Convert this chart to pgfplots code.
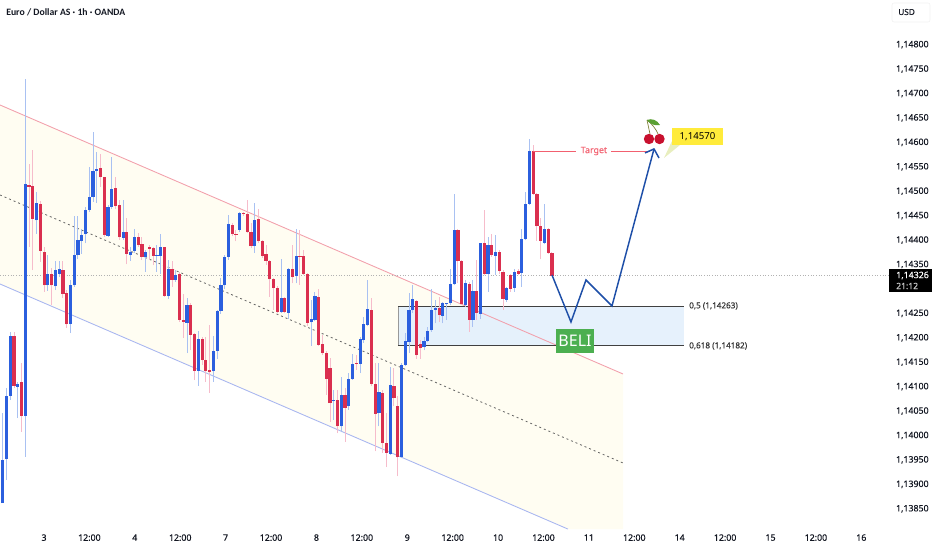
\documentclass[border=0pt]{standalone}
\usepackage{pgfplots}
\usepackage{pgfplotstable}
\usepackage{fontspec}
\setmainfont{Noto Sans}
\newfontfamily\titlefont{Carlito}
\newfontfamily\lblfont[FakeBold=0.3]{Noto Sans}
\pgfplotsset{compat=1.18}
\definecolor{upc}{HTML}{2B5FDE}
\definecolor{dnc}{HTML}{DA2F4F}
\definecolor{upw}{HTML}{A9C1F2}
\definecolor{dnw}{HTML}{F6BCCB}
\definecolor{chfill}{HTML}{FFFDF2}
\definecolor{boxfill}{HTML}{E3F0FC}
\definecolor{chred}{HTML}{F2A0AC}
\definecolor{chblue}{HTML}{A8B6F0}
\definecolor{pathc}{HTML}{1E4FA8}
\definecolor{tgt}{HTML}{F2606F}
\definecolor{txt}{HTML}{131722}
\definecolor{stemc}{HTML}{7A7A30}
\definecolor{leafc}{HTML}{5AA032}
\definecolor{cherryc}{HTML}{C8102E}
\definecolor{belic}{HTML}{4CAF50}
\definecolor{yellowc}{HTML}{FFEB3B}
\definecolor{tailc}{HTML}{E8EEBE}
\pgfplotstableread{
x o c h l
0 1.13860 1.13948 1.14045 1.13860
1 1.13950 1.14079 1.14095 1.13907
2 1.14080 1.14202 1.14211 1.14071
4 1.14098 1.14105 1.14109 1.14034
6 1.14038 1.14513 1.14728 1.13955
9 1.14439 1.14474 1.14497 1.14412
12 1.14306 1.14330 1.14368 1.14295
14 1.14304 1.14337 1.14356 1.14296
15 1.14330 1.14340 1.14356 1.14324
18 1.14226 1.14306 1.14317 1.14208
19 1.14306 1.14369 1.14448 1.14303
20 1.14368 1.14399 1.14448 1.14360
21 1.14397 1.14409 1.14421 1.14371
22 1.14412 1.14461 1.14467 1.14392
23 1.14460 1.14487 1.14549 1.14457
24 1.14487 1.14540 1.14620 1.14477
25 1.14540 1.14545 1.14579 1.14475
28 1.14407 1.14467 1.14470 1.14405
29 1.14467 1.14504 1.14569 1.14463
32 1.14403 1.14416 1.14480 1.14399
34 1.14368 1.14375 1.14385 1.14356
35 1.14377 1.14404 1.14422 1.14373
38 1.14363 1.14375 1.14378 1.14334
41 1.14366 1.14368 1.14388 1.14334
42 1.14366 1.14384 1.14412 1.14330
44 1.14284 1.14340 1.14358 1.14278
46 1.14317 1.14328 1.14337 1.14313
49 1.14229 1.14266 1.14281 1.14167
52 1.14131 1.14197 1.14213 1.14100
56 1.14130 1.14172 1.14202 1.14109
57 1.14172 1.14254 1.14255 1.14156
58 1.14254 1.14306 1.14320 1.14248
59 1.14306 1.14363 1.14368 1.14298
60 1.14364 1.14431 1.14450 1.14358
63 1.14420 1.14454 1.14457 1.14416
67 1.14386 1.14440 1.14474 1.14372
74 1.14252 1.14280 1.14360 1.14249
76 1.14250 1.14339 1.14341 1.14237
78 1.14325 1.14366 1.14421 1.14310
82 1.14230 1.14237 1.14276 1.14182
83 1.14235 1.14285 1.14293 1.14232
88 1.14069 1.14072 1.14091 1.14031
90 1.14017 1.14082 1.14118 1.14005
92 1.14058 1.14114 1.14126 1.14051
93 1.14114 1.14145 1.14166 1.14113
95 1.14145 1.14197 1.14201 1.14126
96 1.14194 1.14226 1.14242 1.14188
97 1.14225 1.14258 1.14317 1.14222
100 1.14044 1.14087 1.14147 1.14017
103 1.13961 1.14102 1.14139 1.13959
106 1.13954 1.14143 1.14147 1.13952
107 1.14143 1.14191 1.14208 1.14140
108 1.14190 1.14255 1.14290 1.14167
109 1.14255 1.14278 1.14307 1.14249
112 1.14179 1.14192 1.14201 1.14173
113 1.14192 1.14213 1.14221 1.14190
114 1.14214 1.14256 1.14299 1.14211
115 1.14256 1.14259 1.14276 1.14228
117 1.14243 1.14269 1.14272 1.14228
118 1.14267 1.14269 1.14270 1.14235
119 1.14269 1.14308 1.14340 1.14265
120 1.14308 1.14420 1.14493 1.14306
123 1.14265 1.14310 1.14316 1.14262
125 1.14235 1.14295 1.14316 1.14221
127 1.14248 1.14392 1.14393 1.14238
129 1.14329 1.14388 1.14405 1.14293
131 1.14367 1.14375 1.14409 1.14327
134 1.14276 1.14301 1.14303 1.14272
136 1.14301 1.14334 1.14340 1.14293
138 1.14332 1.14401 1.14422 1.14303
139 1.14400 1.14473 1.14497 1.14398
140 1.14473 1.14581 1.14606 1.14470
144 1.14393 1.14422 1.14473 1.14390
}\upcandles
\pgfplotstableread{
x o c h l
3 1.14202 1.14100 1.14211 1.14095
5 1.14108 1.14038 1.14147 1.14006
7 1.14512 1.14508 1.14555 1.14385
8 1.14509 1.14441 1.14583 1.14337
10 1.14472 1.14377 1.14479 1.14354
11 1.14375 1.14306 1.14385 1.14293
13 1.14329 1.14306 1.14341 1.14266
16 1.14337 1.14289 1.14356 1.14281
17 1.14291 1.14226 1.14296 1.14219
26 1.14546 1.14527 1.14575 1.14508
27 1.14527 1.14409 1.14528 1.14405
30 1.14505 1.14468 1.14527 1.14463
31 1.14470 1.14404 1.14480 1.14399
33 1.14416 1.14371 1.14443 1.14349
36 1.14404 1.14388 1.14414 1.14385
37 1.14390 1.14364 1.14405 1.14358
39 1.14384 1.14381 1.14388 1.14358
40 1.14382 1.14366 1.14385 1.14347
43 1.14384 1.14285 1.14385 1.14283
45 1.14339 1.14317 1.14356 1.14303
47 1.14329 1.14235 1.14334 1.14231
48 1.14235 1.14231 1.14289 1.14199
50 1.14266 1.14205 1.14269 1.14173
51 1.14206 1.14131 1.14208 1.14112
53 1.14197 1.14153 1.14201 1.14143
54 1.14154 1.14131 1.14201 1.14109
55 1.14132 1.14128 1.14225 1.14086
61 1.14429 1.14411 1.14433 1.14406
62 1.14411 1.14409 1.14420 1.14396
64 1.14454 1.14452 1.14457 1.14447
65 1.14452 1.14415 1.14481 1.14413
66 1.14415 1.14386 1.14433 1.14382
68 1.14441 1.14396 1.14462 1.14392
69 1.14396 1.14366 1.14399 1.14362
70 1.14371 1.14356 1.14389 1.14348
71 1.14355 1.14318 1.14358 1.14283
72 1.14319 1.14300 1.14321 1.14256
73 1.14300 1.14252 1.14304 1.14249
75 1.14279 1.14252 1.14283 1.14249
77 1.14340 1.14324 1.14389 1.14310
79 1.14366 1.14364 1.14420 1.14307
80 1.14366 1.14330 1.14379 1.14328
81 1.14330 1.14229 1.14331 1.14222
84 1.14283 1.14184 1.14298 1.14181
85 1.14186 1.14167 1.14205 1.14164
86 1.14167 1.14115 1.14171 1.14082
87 1.14137 1.14065 1.14157 1.14027
89 1.14072 1.14017 1.14092 1.14003
91 1.14082 1.14055 1.14096 1.13986
94 1.14148 1.14145 1.14164 1.14133
98 1.14256 1.14104 1.14280 1.14099
99 1.14104 1.14043 1.14147 1.13966
101 1.14085 1.13983 1.14092 1.13963
102 1.13983 1.13963 1.14044 1.13934
104 1.14100 1.14075 1.14137 1.14058
105 1.14058 1.13954 1.14079 1.13915
110 1.14274 1.14163 1.14276 1.14156
111 1.14185 1.14177 1.14194 1.14156
116 1.14260 1.14245 1.14282 1.14231
121 1.14420 1.14355 1.14422 1.14310
122 1.14355 1.14267 1.14357 1.14265
124 1.14308 1.14235 1.14313 1.14211
126 1.14295 1.14250 1.14357 1.14235
128 1.14392 1.14330 1.14460 1.14327
130 1.14388 1.14368 1.14412 1.14364
132 1.14375 1.14336 1.14378 1.14330
133 1.14334 1.14278 1.14337 1.14255
135 1.14328 1.14299 1.14330 1.14293
137 1.14336 1.14330 1.14340 1.14327
141 1.14581 1.14493 1.14593 1.14490
142 1.14493 1.14427 1.14494 1.14397
143 1.14427 1.14397 1.14443 1.14359
145 1.14422 1.14372 1.14424 1.14371
146 1.14372 1.14326 1.14374 1.14325
}\downcandles
\begin{document}
\begin{tikzpicture}
\useasboundingbox (0,0) rectangle (699pt,412.5pt);
\begin{axis}[
  at={(0pt,14.25pt)}, anchor=south west,
  scale only axis, width=667.5pt, height=398.25pt,
  xmin=-0.726, xmax=235.85, ymin=1.138031, ymax=1.14890,
  axis line style={draw=none}, major tick length=0pt,
  xtick={10.97,23.04,35.11,47.18,59.25,71.32,83.39,95.46,107.53,119.6,131.67,143.74,155.81,167.88,179.95,192.02,204.09,216.16,228.23},
  xticklabels={3,12:00,4,12:00,7,12:00,8,12:00,9,12:00,10,12:00,11,12:00,14,12:00,15,12:00,16},
  ytick={1.1385,1.139,1.1395,1.14,1.1405,1.141,1.1415,1.142,1.1425,1.1435,1.144,1.1445,1.145,1.1455,1.146,1.1465,1.147,1.1475,1.148},
  yticklabel pos=right,
  /pgf/number format/fixed,
  /pgf/number format/fixed zerofill,
  /pgf/number format/precision=5,
  /pgf/number format/use comma,
  /pgf/number format/1000 sep={},
  /pgf/number format/assume math mode=true,
  tick label style={font=\lblfont\fontsize{6.6}{8}\selectfont, text=txt},
  xticklabel style={yshift=1pt},
  yticklabel style={xshift=1pt,yshift=-0.5pt},
]
% channel
\addplot[fill=chfill,draw=none,forget plot] coordinates {(-0.726,1.146751)(164.88,1.141245)(164.88,1.13807)(150.26,1.13807)(-0.726,1.143087)} -- cycle;
% box
\addplot[fill=boxfill,fill opacity=0.9,draw=none,forget plot] coordinates {(105.07,1.14263)(181.1,1.14263)(181.1,1.14182)(105.07,1.14182)} -- cycle;
\addplot[draw=chred,line width=0.65pt,forget plot] coordinates {(-0.726,1.146751)(164.88,1.141245)};
\addplot[draw=chblue,line width=0.65pt,forget plot] coordinates {(-0.726,1.143087)(150.26,1.13807)};
\addplot[draw=black!60,line width=0.6pt,dash pattern=on 1.5pt off 2.2pt,forget plot] coordinates {(-0.726,1.144909)(164.88,1.139423)};
\addplot[draw=black!40,line width=0.5pt,forget plot] coordinates {(105.07,1.14263)(105.07,1.14182)};
\addplot[draw=black!75,line width=0.7pt,forget plot] coordinates {(105.07,1.14263)(181.1,1.14263)};
\addplot[draw=black!75,line width=0.7pt,forget plot] coordinates {(105.07,1.14182)(181.1,1.14182)};
% last price
\addplot[draw=black!30,line width=0.4pt,dash pattern=on 0.7pt off 1.3pt,forget plot] coordinates {(-0.726,1.14326)(235.85,1.14326)};
% wicks
\addplot[draw=none,mark=none,forget plot,error bars/.cd,y dir=plus,y explicit,error mark=none,error bar style={draw=upw,line width=0.75pt}] table[x=x,y=l,y error plus expr={\thisrow{h}-\thisrow{l}}] {\upcandles};
\addplot[draw=none,mark=none,forget plot,error bars/.cd,y dir=plus,y explicit,error mark=none,error bar style={draw=dnw,line width=0.75pt}] table[x=x,y=l,y error plus expr={\thisrow{h}-\thisrow{l}}] {\downcandles};
% bodies
\addplot[draw=none,mark=none,forget plot,error bars/.cd,y dir=plus,y explicit,error mark=none,error bar style={draw=upc,line width=2.4pt}] table[x=x,y=o,y error plus expr={\thisrow{c}-\thisrow{o}}] {\upcandles};
\addplot[draw=none,mark=none,forget plot,error bars/.cd,y dir=plus,y explicit,error mark=none,error bar style={draw=dnc,line width=2.4pt}] table[x=x,y=c,y error plus expr={\thisrow{o}-\thisrow{c}}] {\downcandles};
% target
\addplot[draw=tgt,line width=0.6pt,forget plot] coordinates {(140.95,1.14581)(152.4,1.14581)};
\addplot[draw=tgt,line width=0.6pt,forget plot] coordinates {(161.7,1.14581)(172.06,1.14581)};
% projected path
\addplot[draw=pathc,line width=1.1pt,forget plot] coordinates {(146.0,1.143271)(151.05,1.142309)(155.04,1.143169)(161.95,1.142637)(173.12,1.145851)};
\addplot[draw=pathc,line width=1.1pt,forget plot] coordinates {(170.73,1.145769)(173.12,1.145851)(174.45,1.145666)};
\end{axis}
\begin{scope}[x=0.75pt,y=-0.75pt,yshift=412.5pt]
\node[anchor=west,inner sep=0pt,font=\titlefont\bfseries\fontsize{7.3}{9}\selectfont,text=txt] at (6,12) {Euro / Dollar AS · 1h · OANDA};
\draw[draw=black!6,line width=0.4pt,rounded corners=1.5pt] (892,3) rectangle (930,22);
\node[anchor=west,inner sep=0pt,font=\lblfont\fontsize{6.2}{8}\selectfont,text=txt] at (898,12) {USD};
% tag
\fill[black] (889,269) rectangle (932,292);
\node[anchor=west,inner sep=0pt,font=\lblfont\fontsize{6.6}{8}\selectfont,text=white] at (896,275.5) {1,14326};
\node[anchor=west,inner sep=0pt,font=\lblfont\fontsize{6.4}{8}\selectfont,text=black!20] at (896,286) {21:12};
% fib labels
\node[anchor=west,inner sep=0pt,font=\lblfont\fontsize{6.1}{8}\selectfont,text=black!80] at (689,306) {0,5 (1,14263)};
\node[anchor=west,inner sep=0pt,font=\lblfont\fontsize{6.1}{8}\selectfont,text=black!80] at (689,346) {0,618 (1,14182)};
% target text
\node[inner sep=0pt,font=\lblfont\fontsize{6.6}{8}\selectfont,text=tgt] at (594,151) {Target};
% BELI
\fill[belic] (556,329) rectangle (594,353);
\node[inner sep=0pt,font=\bfseries\fontsize{12}{13}\selectfont,text=white] at (575,341) {BELI};
% callout
\fill[tailc] (672,141) -- (664,158) -- (680,145) -- cycle;
\fill[yellowc] (672,128) rectangle (723,145);
\node[inner sep=0pt,font=\bfseries\fontsize{7.2}{8}\selectfont,text=black] at (697.5,136.5) {1,14570};
% cherry
\draw[stemc,line width=0.5pt] (647,120) -- (650,134);
\draw[stemc,line width=0.5pt] (647,120) .. controls (652,124) and (656,129) .. (658,134);
\fill[leafc] (647,120) .. controls (652,118) and (657,120) .. (660,125) .. controls (654,126) and (650,124) .. cycle;
\fill[cherryc] (649,139) circle (5.2);
\fill[cherryc] (659.5,139) circle (5.2);
\end{scope}
\end{tikzpicture}
\end{document}
